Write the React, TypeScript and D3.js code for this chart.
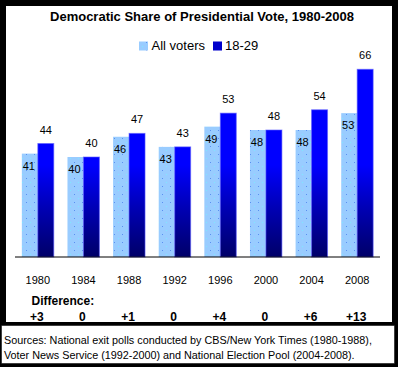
import React from 'react';
import * as d3 from 'd3';

const years = ['1980', '1984', '1988', '1992', '1996', '2000', '2004', '2008'];
const allVoters = [41, 40, 46, 43, 49, 48, 48, 53];
const young = [44, 40, 47, 43, 53, 48, 54, 66];
const differences = ['+3', '0', '+1', '0', '+4', '0', '+6', '+13'];
const seriesNames = ['All voters', '18-29'];
const sourceLines = [
  'Sources: National exit polls conducted by CBS/New York Times (1980-1988),',
  'Voter News Service (1992-2000) and National Election Pool (2004-2008).',
];

const W = 398;
const H = 367;
const baseY = 257;
const font = '"Liberation Sans", Arial, sans-serif';

export default function App() {
  const x = d3.scaleBand<string>().domain(years).range([15, 380]).paddingInner(0.3).paddingOuter(0.15);
  const x1 = d3.scaleBand<string>().domain(seriesNames).range([0, x.bandwidth()]);
  const y = d3.scaleLinear().domain([10, 70]).range([258.2, 55.8]);

  return (
    <div style={{ position: 'absolute', left: 0, top: 0 }}>
      <svg width={W} height={H} style={{ display: 'block' }} fontFamily={font}>
        <defs>
          <pattern id="dots" width="8" height="8" patternUnits="userSpaceOnUse">
            <rect width="8" height="8" fill="#99ccff" />
            <rect x="2" y="2" width="1" height="1" fill="#5b8ff0" />
            <rect x="6" y="6" width="1" height="1" fill="#7fe8ff" />
          </pattern>
          <linearGradient id="dark" gradientUnits="userSpaceOnUse" x1="0" y1="165" x2="0" y2={baseY}>
            <stop offset="0" stopColor="#0000ff" />
            <stop offset="0.5" stopColor="#0000b0" />
            <stop offset="1" stopColor="#000068" />
          </linearGradient>
        </defs>

        <rect x={0} y={0} width={W} height={H} fill="#000" />
        <rect x={6} y={6} width={386} height={316} fill="#fff" />

        <text x={202} y={20.5} textAnchor="middle" fontSize={13} fontWeight="bold">
          Democratic Share of Presidential Vote, 1980-2008
        </text>

        {/* legend */}
        <rect x={139} y={41.5} width={9} height={9} fill="url(#dots)" />
        <text x={151.5} y={50} fontSize={13}>{seriesNames[0]}</text>
        <rect x={213} y={41.5} width={9} height={9} fill="#0000cc" />
        <text x={225} y={50} fontSize={13}>{seriesNames[1]}</text>

        {years.map((yr, i) => {
          const gx = x(yr)!;
          const lx = gx + x1(seriesNames[0])!;
          const dx = gx + x1(seriesNames[1])!;
          const bw = x1.bandwidth();
          const ly = y(allVoters[i]);
          const dy = y(young[i]);
          return (
            <g key={yr}>
              <rect x={lx} y={ly} width={bw} height={baseY - ly} fill="url(#dots)" />
              <rect x={dx} y={dy} width={bw} height={baseY - dy} fill="url(#dark)"
                stroke="#5a5aff" strokeOpacity={0.6} strokeWidth={1} />
              <text x={lx + bw / 2 - 1} y={ly + 16} textAnchor="middle" fontSize={11}>{allVoters[i]}</text>
              <text x={dx + bw / 2} y={dy - 10} textAnchor="middle" fontSize={11}>{young[i]}</text>
              <text x={gx + x.bandwidth() / 2} y={284} textAnchor="middle" fontSize={11}>{yr}</text>
              <text x={gx + x.bandwidth() / 2 - 1} y={321} textAnchor="middle" fontSize={12} fontWeight="bold">
                {differences[i]}
              </text>
            </g>
          );
        })}

        <line x1={15} x2={380} y1={baseY} y2={baseY} stroke="#000" strokeWidth={1} />

        <text x={31.5} y={305} fontSize={12} fontWeight="bold">Difference:</text>

        {/* sources box */}
        <rect x={1.5} y={325.5} width={393} height={38} fill="#fff" stroke="#000" strokeDasharray="1,1" />
        {sourceLines.map((s, i) => (
          <text key={i} x={4} y={344 + i * 15} fontSize={10.8}>{s}</text>
        ))}
      </svg>
    </div>
  );
}
